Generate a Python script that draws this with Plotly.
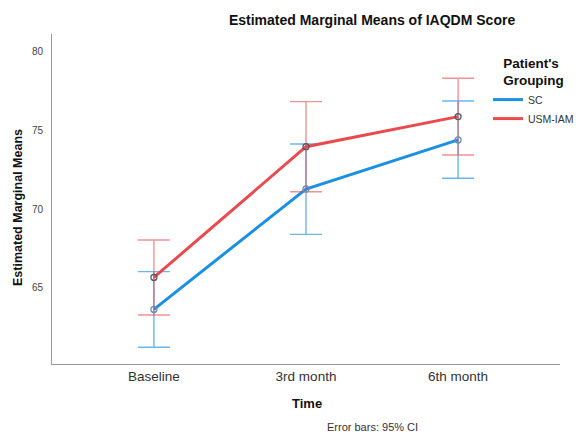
import plotly.graph_objects as go

categories = ["Baseline", "3rd month", "6th month"]
sc_mean = [63.64, 71.29, 74.41]
sc_low = [61.23, 68.41, 71.97]
sc_high = [66.04, 74.15, 76.88]
usm_mean = [65.67, 73.98, 75.89]
usm_low = [63.28, 71.12, 73.45]
usm_high = [68.05, 76.84, 78.33]

BLUE = "#1A8FE3"
RED = "#E84A4E"
BLUE_EB = "rgba(26,143,227,0.65)"
RED_EB = "rgba(232,74,78,0.6)"
FONT = "Liberation Sans, Arial, sans-serif"

# page body has an 8px margin: figure is drawn 8px right/down of the window origin
W, H = 577, 426
OFF = 8

x = [0, 1, 2]

fig = go.Figure()

for name, mean, lo, hi, col, ebc in [
    ("SC", sc_mean, sc_low, sc_high, BLUE, BLUE_EB),
    ("USM-IAM", usm_mean, usm_low, usm_high, RED, RED_EB),
]:
    fig.add_trace(go.Scatter(
        x=x, y=mean, mode="lines", name=name,
        line=dict(color=col, width=3),
        error_y=dict(type="data", symmetric=False,
                     array=[h - m for h, m in zip(hi, mean)],
                     arrayminus=[m - l for m, l in zip(mean, lo)],
                     color=ebc, thickness=1.4, width=16),
    ))

for mean, col in [(sc_mean, "#6a8fb5"), (usm_mean, "#5a5a5a")]:
    fig.add_trace(go.Scatter(
        x=x, y=mean, mode="markers", showlegend=False, hoverinfo="skip",
        marker=dict(symbol="circle-open", size=6, color=col, line=dict(width=1.3)),
    ))

fig.update_layout(
    width=W, height=H,
    margin=dict(l=52 - OFF, r=W - (560 - OFF), t=34 - OFF, b=H - (364 - OFF), autoexpand=False),
    paper_bgcolor="white", plot_bgcolor="white",
    font=dict(family=FONT, color="#333"),
    title=dict(text="<b>Estimated Marginal Means of IAQDM Score</b>",
               x=0.63, xref="paper", xanchor="center",
               y=1 - (20 - OFF) / H, yref="container", yanchor="middle",
               font=dict(size=14, color="#111", family=FONT)),
    xaxis=dict(range=[-0.67, 2.67], tickmode="array", tickvals=x, ticktext=categories,
               showline=True, linecolor="#999", linewidth=1, showgrid=False, zeroline=False,
               ticks="", automargin=False, tickfont=dict(size=13.5, color="#333")),
    yaxis=dict(range=[60.17, 81.14], dtick=5, tick0=60,
               showline=True, linecolor="#999", linewidth=1, showgrid=False, zeroline=False,
               ticks="", automargin=False, ticklabelstandoff=6,
               tickfont=dict(size=10, color="#444")),
    legend=dict(xref="container", yref="container", x=(488 - OFF) / W, y=1 - (50 - OFF) / H,
                xanchor="left", yanchor="top",
                bgcolor="rgba(0,0,0,0)", itemwidth=30, tracegroupgap=0,
                font=dict(size=10.5, color="#333"),
                title=dict(text="<b>Patient's<br>Grouping</b>", side="top center",
                           font=dict(size=13.5, color="#111"))),
    annotations=[
        dict(text="<b>Estimated Marginal Means</b>", xref="paper", yref="paper",
             x=(18 - 52) / 508, y=(364 - 208) / 330, textangle=-90,
             xanchor="center", yanchor="middle", showarrow=False,
             font=dict(size=12.5, color="#111")),
        dict(text="<b>Time</b>", xref="paper", yref="paper",
             x=(307 - 52) / 508, y=(364 - 403) / 330,
             xanchor="center", yanchor="middle", showarrow=False,
             font=dict(size=13, color="#111")),
        dict(text="Error bars: 95% CI", xref="paper", yref="paper",
             x=(372 - 52) / 508, y=(364 - 427) / 330,
             xanchor="center", yanchor="middle", showarrow=False,
             font=dict(size=11, color="#333")),
    ],
)

fig.write_html("out.html")
